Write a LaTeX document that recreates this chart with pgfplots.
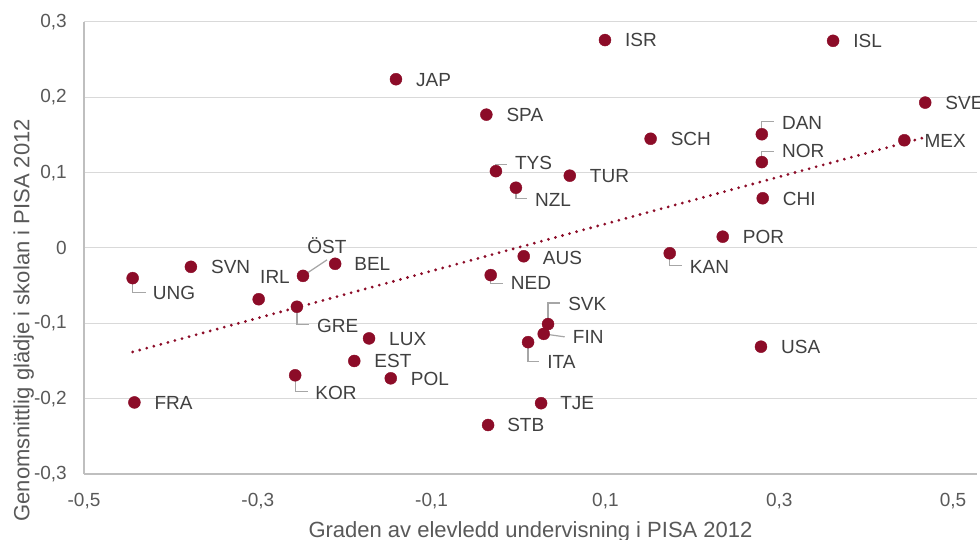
\documentclass[border=0pt]{standalone}
\usepackage{pgfplots}
\usepackage{pgfplotstable}
\pgfplotsset{compat=1.18}
\usepackage{fontspec}
\setmainfont{Liberation Sans}
\definecolor{dotred}{RGB}{140,12,40}
\definecolor{labgray}{RGB}{64,64,64}
\definecolor{tickgray}{RGB}{89,89,89}
\definecolor{axisgray}{RGB}{191,191,191}
\definecolor{gridgray}{RGB}{217,217,217}
\definecolor{leadgray}{RGB}{166,166,166}
\newcommand{\lfont}{\fontsize{19bp}{22bp}\selectfont}
\newcommand{\tfont}{\fontsize{22bp}{26bp}\selectfont}
% label: x, y, dx, dy (bp, up positive), text
\newcommand{\lab}[5]{\node[anchor=west,inner sep=0pt,text height=13.6bp,text depth=0pt,font=\lfont,text=labgray] at ([shift={(#3bp,#4bp)}]axis cs:#1,#2) {#5};}
% leader: x, y, dx, dy
\newcommand{\lead}[4]{\draw[leadgray,line width=1.2bp] (axis cs:#1,#2) -- ([shift={(0bp,#4bp)}]axis cs:#1,#2) -- ([shift={(#3bp,#4bp)}]axis cs:#1,#2);}

\pgfplotstableread{
x y
0.0995 0.276
0.362 0.275
-0.141 0.224
0.468 0.193
-0.037 0.177
0.280 0.151
0.152 0.145
0.444 0.143
0.280 0.114
-0.026 0.102
0.059 0.096
-0.003 0.080
0.281 0.066
0.235 0.015
0.006 -0.011
0.174 -0.007
-0.211 -0.021
-0.377 -0.025
-0.248 -0.037
-0.032 -0.036
-0.444 -0.040
-0.299 -0.068
-0.255 -0.078
0.034 -0.101
0.029 -0.114
-0.172 -0.120
0.011 -0.125
0.279 -0.131
-0.189 -0.150
-0.257 -0.169
-0.147 -0.173
-0.442 -0.205
0.026 -0.206
-0.035 -0.235
}\pisadata

\begin{document}
\begin{tikzpicture}
\begin{axis}[
  scale only axis,
  width=893bp, height=452bp,
  xmin=-0.5, xmax=0.5276,
  ymin=-0.3, ymax=0.3,
  axis lines=left,
  axis line style={-, draw=axisgray, line width=1.3bp},
  xtick={-0.5,-0.3,-0.1,0.1,0.3,0.5},
  xticklabels={{-0,5},{-0,3},{-0,1},{0,1},{0,3},{0,5}},
  ytick={-0.3,-0.2,-0.1,0,0.1,0.2,0.3},
  yticklabels={{-0,3},{-0,2},{-0,1},{0},{0,1},{0,2},{0,3}},
  major tick length=0pt,
  ymajorgrids,
  grid style={draw=gridgray, line width=1bp},
  tick label style={font=\lfont, text=tickgray, inner sep=0pt},
  yticklabel style={xshift=-17bp},
  xticklabel style={yshift=-19bp},
  xlabel={Graden av elevledd undervisning i PISA 2012},
  ylabel={Genomsnittlig glädje i skolan i PISA 2012},
  label style={font=\tfont, text=tickgray, inner sep=0pt},
  xlabel style={yshift=-12bp},
  ylabel style={at={(ticklabel cs:0.34)}},
  clip=false,
]
\addplot[dotred, line width=3.1bp, line cap=round, dash pattern=on 0pt off 7.3bp] coordinates {(-0.444,-0.138) (0.468,0.147)};
% leader lines
\lead{-0.444}{-0.040}{13}{-14}
\lead{-0.255}{-0.078}{12}{-18}
\lead{-0.257}{-0.169}{13}{-16}
\lead{0.011}{-0.125}{11}{-19}
\lead{-0.032}{-0.036}{12}{-8}
\lead{0.174}{-0.007}{12}{-12}
\lead{-0.003}{0.080}{11}{-11}
\lead{-0.026}{0.102}{11}{7}
\lead{0.034}{-0.101}{12}{21}
\lead{0.280}{0.151}{12}{13}
\lead{0.280}{0.114}{12}{11}
\draw[leadgray,line width=1.2bp] (axis cs:0.029,-0.114) -- ([shift={(21bp,-3bp)}]axis cs:0.029,-0.114);
\draw[leadgray,line width=1.2bp] (axis cs:-0.248,-0.037) -- ([shift={(24bp,16bp)}]axis cs:-0.248,-0.037);
\addplot[only marks, mark=*, mark size=6bp, mark options={draw=dotred, fill=dotred}] table[x=x,y=y] {\pisadata};
% labels
\lab{0.0995}{0.276}{20}{0}{ISR}
\lab{0.362}{0.275}{20}{0}{ISL}
\lab{-0.141}{0.224}{20}{0}{JAP}
\lab{0.468}{0.193}{20}{0}{SVE}
\lab{-0.037}{0.177}{20}{0}{SPA}
\lab{0.280}{0.151}{20}{12}{DAN}
\lab{0.152}{0.145}{20}{0}{SCH}
\lab{0.444}{0.143}{20}{0}{MEX}
\lab{0.280}{0.114}{20}{11}{NOR}
\lab{-0.026}{0.102}{19}{8}{TYS}
\lab{0.059}{0.096}{20}{0}{TUR}
\lab{-0.003}{0.080}{19}{-12}{NZL}
\lab{0.281}{0.066}{20}{0}{CHI}
\lab{0.235}{0.015}{20}{0}{POR}
\lab{0.006}{-0.011}{19}{-1}{AUS}
\lab{0.174}{-0.007}{20}{-13}{KAN}
\lab{-0.211}{-0.021}{19}{0}{BEL}
\lab{-0.377}{-0.025}{20}{0}{SVN}
\lab{-0.032}{-0.036}{20}{-8}{NED}
\lab{-0.444}{-0.040}{20}{-15}{UNG}
\lab{-0.255}{-0.078}{20}{-19}{GRE}
\lab{0.034}{-0.101}{20}{20}{SVK}
\lab{0.029}{-0.114}{29}{-3}{FIN}
\lab{-0.172}{-0.120}{20}{0}{LUX}
\lab{0.011}{-0.125}{19}{-20}{ITA}
\lab{0.279}{-0.131}{20}{0}{USA}
\lab{-0.189}{-0.150}{20}{0}{EST}
\lab{-0.257}{-0.169}{20}{-17}{KOR}
\lab{-0.147}{-0.173}{20}{0}{POL}
\lab{-0.442}{-0.205}{20}{0}{FRA}
\lab{0.026}{-0.206}{19}{0}{TJE}
\lab{-0.035}{-0.235}{19}{0}{STB}
\node[anchor=east,inner sep=0pt,text height=13.6bp,text depth=0pt,font=\lfont,text=labgray] at ([shift={(-13bp,-1bp)}]axis cs:-0.248,-0.037) {IRL};
\node[anchor=base,inner sep=0pt,font=\lfont,text=labgray] at ([shift={(24bp,22bp)}]axis cs:-0.248,-0.037) {ÖST};
\end{axis}
\pgfresetboundingbox
\path ([shift={(-84bp,-66bp)}]current axis.south west) rectangle ([shift={(3bp,22bp)}]current axis.north east);
\end{tikzpicture}
\end{document}
